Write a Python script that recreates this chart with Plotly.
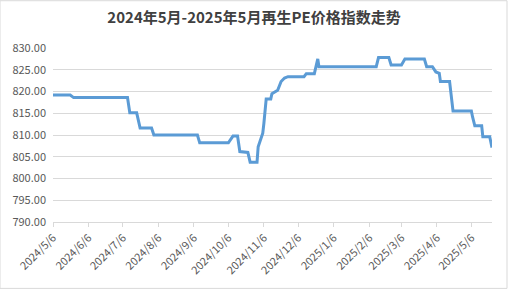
import plotly.graph_objects as go

dates = [
    "2024-05-06", "2024-05-21", "2024-05-24", "2024-07-10", "2024-07-12",
    "2024-07-18", "2024-07-21", "2024-07-31", "2024-08-02", "2024-09-09",
    "2024-09-11", "2024-10-06", "2024-10-10", "2024-10-14", "2024-10-16",
    "2024-10-23", "2024-10-25", "2024-10-31", "2024-11-01", "2024-11-05",
    "2024-11-06", "2024-11-08", "2024-11-12", "2024-11-13", "2024-11-18",
    "2024-11-21", "2024-11-24", "2024-11-27", "2024-12-11", "2024-12-13",
    "2024-12-20", "2024-12-23", "2024-12-24", "2025-02-12", "2025-02-14",
    "2025-02-23", "2025-02-25", "2025-03-06", "2025-03-09", "2025-03-26",
    "2025-03-28", "2025-04-02", "2025-04-05", "2025-04-08", "2025-04-09",
    "2025-04-17", "2025-04-20", "2025-05-06", "2025-05-07", "2025-05-09",
    "2025-05-15", "2025-05-16", "2025-05-22", "2025-05-24",
]
values = [
    819.2, 819.2, 818.6, 818.6, 815.1,
    815.1, 811.6, 811.6, 810.0, 810.0,
    808.2, 808.2, 809.75, 809.75, 806.2,
    806.0, 803.75, 803.75, 807.3, 810.4,
    812.7, 818.3, 818.3, 819.5, 820.3,
    822.3, 823.1, 823.4, 823.4, 824.1,
    824.1, 827.5, 825.7, 825.7, 827.8,
    827.8, 826.1, 826.1, 827.45, 827.45,
    825.7, 825.7, 824.5, 824.2, 822.3,
    822.3, 815.5, 815.5, 814.2, 812.1,
    812.1, 809.6, 809.6, 807.1,
]
tick_dates = ["2024-05-06", "2024-06-06", "2024-07-06", "2024-08-06", "2024-09-06",
              "2024-10-06", "2024-11-06", "2024-12-06", "2025-01-06", "2025-02-06",
              "2025-03-06", "2025-04-06", "2025-05-06"]
tick_labels = ["2024/5/6", "2024/6/6", "2024/7/6", "2024/8/6", "2024/9/6",
               "2024/10/6", "2024/11/6", "2024/12/6", "2025/1/6", "2025/2/6",
               "2025/3/6", "2025/4/6", "2025/5/6"]
y_ticks = [790, 795, 800, 805, 810, 815, 820, 825, 830]

fig = go.Figure()
fig.add_trace(go.Scatter(
    x=dates, y=values, mode="lines",
    line=dict(color="#5b9bd5", width=3),
    showlegend=False,
))

font = "Noto Sans CJK SC, Liberation Sans, sans-serif"
fig.update_layout(
    width=508, height=289,
    margin=dict(l=53, r=16, t=48, b=67),
    paper_bgcolor="white", plot_bgcolor="white",
    title=dict(text="<b>2024年5月-2025年5月再生PE价格指数走势</b>",
               x=0.5, xanchor="center", y=0.937, yanchor="middle",
               font=dict(family=font, size=15, color="#404040")),
    font=dict(family=font, size=11, color="#595959"),
    xaxis=dict(
        type="date", range=["2024-05-06", "2025-05-24"],
        tickvals=tick_dates, ticktext=tick_labels, tickangle=-45,
        ticks="outside", ticklen=4, tickcolor="#d9d9d9",
        showgrid=False, showline=True, linecolor="#d9d9d9", linewidth=1,
        zeroline=False, tickfont=dict(size=11, color="#595959"),
    ),
    yaxis=dict(
        range=[790, 830], tickvals=y_ticks, tickformat=".2f",
        showgrid=True, gridcolor="#d9d9d9", gridwidth=1,
        zeroline=False, showline=False, ticks="",
        ticklabelstandoff=6,
        tickfont=dict(size=11, color="#595959"),
    ),
    shapes=[dict(type="rect", xref="paper", yref="paper",
                 x0=-53/439, x1=1 + 15/439, y0=-66/173, y1=1 + 47/173,
                 line=dict(color="#d9d9d9", width=1))],
)

fig.write_html("out.html")
